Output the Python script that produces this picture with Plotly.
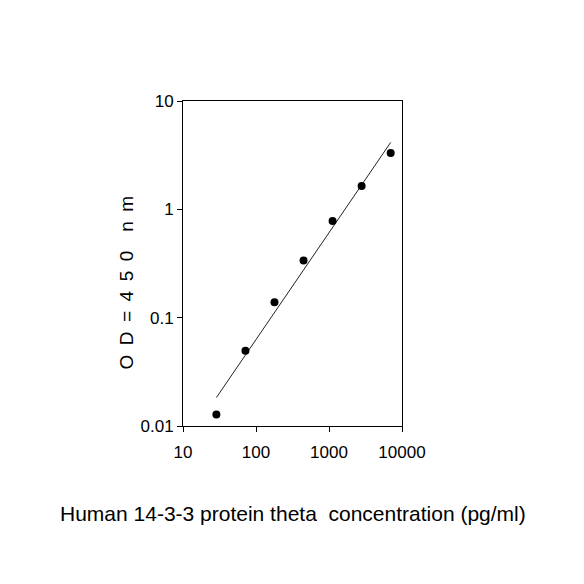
import plotly.graph_objects as go

# Data
conc = [28.67, 71.68, 179.2, 448, 1120, 2800, 7000]
od = [0.0128, 0.0494, 0.139, 0.337, 0.78, 1.64, 3.32]
fit_x = [28.67, 7000]
fit_y = [0.0183, 4.15]
x_ticks = [10, 100, 1000, 10000]
x_tick_labels = ["10", "100", "1000", "10000"]
y_ticks = [0.01, 0.1, 1, 10]
y_tick_labels = ["0.01", "0.1", "1", "10"]

FONT = "Liberation Sans, Arial, sans-serif"

fig = go.Figure()
fig.add_trace(go.Scatter(x=fit_x, y=fit_y, mode="lines",
                         line=dict(color="#222222", width=1), showlegend=False))
fig.add_trace(go.Scatter(x=conc, y=od, mode="markers",
                         marker=dict(color="black", size=8), showlegend=False))

fig.update_layout(
    width=584, height=584,
    margin=dict(l=175, r=190, t=93, b=166),
    paper_bgcolor="white", plot_bgcolor="white",
    font=dict(family=FONT, color="black", size=17),
    xaxis=dict(type="log", range=[1, 4], tickvals=x_ticks, ticktext=x_tick_labels,
               showgrid=False, zeroline=False, showline=True, linecolor="black",
               linewidth=1, mirror=True, ticks="outside", ticklen=5,
               ticklabelstandoff=6,
               tickcolor="black", tickfont=dict(size=17, family=FONT)),
    yaxis=dict(type="log", range=[-2, 1], tickvals=y_ticks, ticktext=y_tick_labels,
               showgrid=False, zeroline=False, showline=True, linecolor="black",
               linewidth=1, mirror=True, ticks="outside", ticklen=5,
               tickcolor="black", tickfont=dict(size=17, family=FONT)),
    annotations=[
        dict(text="Human 14-3-3 protein theta  concentration (pg/ml)",
             xref="paper", yref="paper", x=0.5, y=0, yshift=-87,
             xanchor="center", yanchor="middle", showarrow=False,
             font=dict(size=21, family=FONT)),
        dict(text="O\u2002D\u2002=\u20024\u20025\u20020\u2002\u2002n\u2002m",
             xref="paper", yref="paper", x=0, y=0.5, xshift=-57, yshift=-19,
             xanchor="center", yanchor="middle", showarrow=False, textangle=-90,
             font=dict(size=19, family=FONT)),
    ],
)

fig.write_html("out.html")
